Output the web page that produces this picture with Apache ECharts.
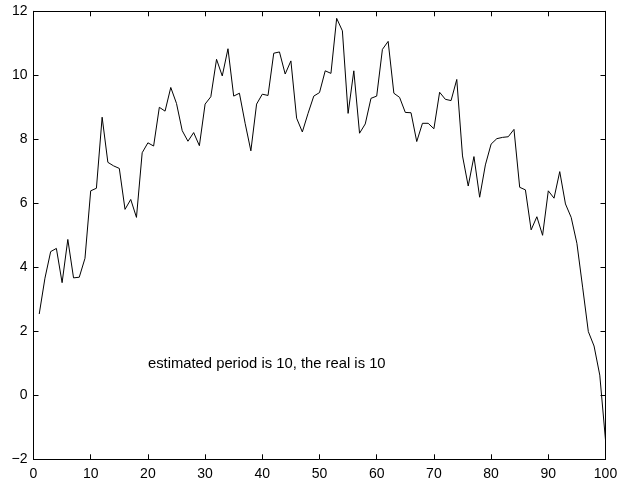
<!DOCTYPE html>
<html>
<head>
<meta charset="utf-8">
<script src="https://cdn.jsdelivr.net/npm/echarts@6/dist/echarts.min.js"></script>
<style>
html,body{margin:0;padding:0;background:#fff;}
#c{width:634px;height:484px;}
</style>
</head>
<body>
<div id="c"></div>
<script>
var xTicks = [0, 10, 20, 30, 40, 50, 60, 70, 80, 90, 100];
var yTicks = [-2, 0, 2, 4, 6, 8, 10, 12];
var signalValues = [
  2.54, 3.66, 4.49, 4.59, 3.52, 4.87, 3.67, 3.69, 4.28, 6.39,
  6.47, 8.69, 7.28, 7.17, 7.09, 5.81, 6.12, 5.56, 7.58, 7.89,
  7.79, 9.00, 8.88, 9.62, 9.12, 8.27, 7.94, 8.21, 7.80, 9.10,
  9.33, 10.50, 9.98, 10.83, 9.35, 9.44, 8.50, 7.64, 9.10, 9.41,
  9.37, 10.69, 10.73, 10.04, 10.45, 8.66, 8.23, 8.81, 9.35, 9.46,
  10.14, 10.06, 11.78, 11.39, 8.81, 10.14, 8.19, 8.48, 9.28, 9.35,
  10.81, 11.06, 9.44, 9.31, 8.84, 8.83, 7.93, 8.50, 8.50, 8.33,
  9.47, 9.25, 9.21, 9.87, 7.48, 6.54, 7.46, 6.19, 7.20, 7.85,
  8.02, 8.06, 8.08, 8.31, 6.50, 6.42, 5.17, 5.58, 5.00, 6.39,
  6.16, 6.99, 5.98, 5.56, 4.75, 3.38, 1.99, 1.54, 0.63, -1.40
];
var annotationText = 'estimated period is 10, the real is 10';
var annotationAt = [20, 1];

var points = signalValues.map(function (v, i) { return [i + 1, v]; });
var fontFam = 'Liberation Sans, Arial, Helvetica, sans-serif';

function mkX(pos, showLabel) {
  return {
    type: 'value', position: pos, gridIndex: 0,
    min: xTicks[0], max: xTicks[xTicks.length - 1], interval: 10,
    axisLine: { show: true, onZero: false, lineStyle: { color: '#000', width: 1 } },
    axisTick: { show: true, inside: true, length: 5, lineStyle: { color: '#000', width: 1 } },
    axisLabel: { show: showLabel, color: '#000', fontSize: 14, fontFamily: fontFam, margin: 8 },
    splitLine: { show: false }
  };
}
function mkY(pos, showLabel) {
  return {
    type: 'value', position: pos, gridIndex: 0,
    min: yTicks[0], max: yTicks[yTicks.length - 1], interval: 2,
    axisLine: { show: true, onZero: false, lineStyle: { color: '#000', width: 1 } },
    axisTick: { show: true, inside: true, length: 5, lineStyle: { color: '#000', width: 1 } },
    axisLabel: { show: showLabel, color: '#000', fontSize: 14, fontFamily: fontFam, margin: 6,
      formatter: function (v) { return String(v).replace('-', '\u2212'); } },
    splitLine: { show: false }
  };
}

var chart = echarts.init(document.getElementById('c'), null, { renderer: 'canvas' });
chart.setOption({
  backgroundColor: '#fff',
  animation: false,
  grid: { left: 33.5, right: 28.5, top: 11.3, bottom: 24.7, containLabel: false },
  xAxis: [mkX('bottom', true), mkX('top', false)],
  yAxis: [mkY('left', true), mkY('right', false)],
  series: [{
    type: 'line',
    xAxisIndex: 0, yAxisIndex: 0,
    data: points,
    showSymbol: false,
    symbol: 'none',
    lineStyle: { color: '#000', width: 1 },
    silent: true
  }]
});
var p = chart.convertToPixel({ gridIndex: 0 }, annotationAt);
chart.setOption({
  graphic: [{
    type: 'text', x: p[0], y: p[1] + 1,
    style: { text: annotationText, fill: '#000', font: '14.8px ' + fontFam, textVerticalAlign: 'middle', verticalAlign: 'middle' }
  }]
});
</script>
</body>
</html>
